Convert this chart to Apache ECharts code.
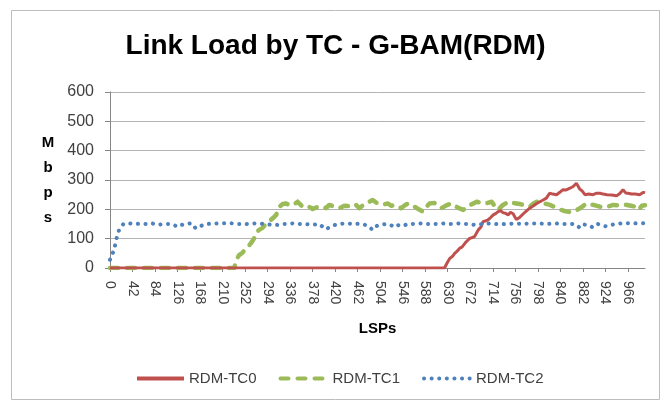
<!DOCTYPE html>
<html>
<head>
<meta charset="utf-8">
<script src="https://cdn.jsdelivr.net/npm/echarts@6/dist/echarts.min.js"></script>
<style>html,body{margin:0;padding:0;background:#fff}#c{width:671px;height:401px}</style>
</head>
<body>
<div id="c"></div>
<script>
// ---- data (LSP index, Mbps) ----
const titleText = "Link Load by TC - G-BAM(RDM)";
const seriesNames = ["RDM-TC0", "RDM-TC1", "RDM-TC2"];
const xTickStep = 42;
const yTicks = [0, 100, 200, 300, 400, 500, 600];

const tc0 = [[0,0],[624,0],[629,18],[634,33],[639,40],[643,50],[648,58],[652,67],[657,72],[662,84],[666,92],[671,101],[676,104],[680,107],[684,120],[687,130],[692,140],[696,158],[700,160],[705,164],[710,172],[715,181],[720,186],[724,192],[729,195],[733,189],[738,186],[743,181],[747,190],[752,185],[758,165],[764,172],[771,185],[777,195],[783,204],[790,212],[796,220],[802,226],[808,232],[814,238],[820,255],[826,252],[833,250],[839,258],[845,267],[851,266],[858,272],[864,278],[870,289],[876,270],[881,262],[886,250],[893,252],[901,250],[908,255],[914,255],[920,252],[927,250],[936,249],[945,246],[951,254],[957,267],[962,256],[966,255],[973,252],[980,252],[988,250],[995,258],[998,256]];

const tc1 = [[0,0],[232,0],[235,27],[241,44],[247,52],[254,67],[260,78],[265,90],[269,102],[272,119],[278,130],[284,136],[290,148],[297,160],[304,170],[310,181],[316,209],[322,218],[328,220],[334,216],[340,222],[345,219],[350,226],[359,209],[368,212],[378,201],[387,208],[396,209],[403,204],[409,215],[418,210],[428,204],[437,212],[447,211],[453,208],[459,215],[465,204],[472,214],[478,223],[484,226],[490,232],[499,220],[506,220],[512,217],[518,220],[525,212],[531,215],[537,210],[543,204],[550,214],[556,220],[562,212],[568,209],[576,200],[584,192],[590,208],[596,220],[605,222],[612,212],[618,204],[628,214],[637,220],[646,209],[652,203],[659,198],[665,208],[671,215],[678,220],[684,226],[692,222],[699,220],[705,222],[712,226],[718,210],[724,198],[733,215],[738,220],[743,226],[751,222],[758,220],[765,218],[771,215],[777,212],[783,209],[790,220],[796,226],[802,222],[808,220],[815,218],[821,215],[827,210],[833,204],[839,200],[845,196],[850,193],[855,192],[860,190],[864,192],[870,197],[877,204],[883,212],[889,220],[895,217],[902,215],[908,212],[914,209],[921,208],[927,209],[933,212],[939,215],[945,214],[951,215],[958,216],[964,215],[972,212],[980,209],[986,198],[992,212],[998,214]];

const tc2 = [[0,28],[4,45],[8,65],[12,100],[17,130],[25,150],[35,152],[45,150],[56,151],[70,150],[77,153],[84,149],[92,148],[100,150],[112,150],[120,146],[126,140],[134,147],[143,150],[152,153],[160,135],[169,143],[178,150],[190,151],[205,152],[222,153],[240,150],[255,150],[270,152],[283,151],[297,148],[312,147],[325,150],[340,152],[352,150],[365,150],[378,147],[390,150],[403,132],[412,142],[425,150],[440,152],[455,150],[468,151],[480,145],[490,130],[497,143],[505,147],[515,150],[522,148],[531,139],[538,146],[546,143],[555,150],[563,150],[578,152],[590,150],[605,150],[620,152],[635,150],[650,152],[665,150],[680,147],[695,150],[710,152],[725,149],[740,150],[756,152],[770,150],[785,152],[800,152],[815,150],[830,152],[845,150],[862,150],[870,147],[877,136],[885,148],[893,146],[901,138],[910,150],[925,142],[940,149],[955,152],[970,153],[985,152],[998,153]];

const colors = ["#C0504D", "#9BBB59", "#4F81BD"];

const chart = echarts.init(document.getElementById('c'), null, {renderer: 'canvas'});
const axisGray = '#868686';
const labelColor = '#404040';
const font = '"Liberation Sans", Arial, sans-serif';

chart.setOption({
  animation: false,
  backgroundColor: '#ffffff',
  textStyle: {fontFamily: font},
  title: {
    text: titleText, left: 'center', top: 27,
    textStyle: {fontFamily: font, fontSize: 28, fontWeight: 'bold', color: '#000'}
  },
  graphic: [{
    type: 'rect', shape: {x: 11.5, y: 10.5, width: 648, height: 389},
    style: {fill: 'none', stroke: '#bdbdbd', lineWidth: 1}, silent: true, z: -1
  }],
  legend: {
    left: 130, top: 366, itemWidth: 47, itemHeight: 14, itemGap: 22,
    itemStyle: {opacity: 0},
    lineStyle: {width: 4},
    textStyle: {fontFamily: font, fontSize: 15, color: labelColor},
    data: seriesNames
  },
  grid: {left: 110, right: 26, top: 92, bottom: 133},
  xAxis: {
    type: 'value', min: 0, max: 998, interval: xTickStep,
    name: 'LSPs', nameLocation: 'middle', nameGap: 53,
    nameTextStyle: {fontFamily: font, fontSize: 15, fontWeight: 'bold', color: '#000'},
    axisLine: {show: true, lineStyle: {color: axisGray}},
    axisTick: {show: true, length: 4, lineStyle: {color: axisGray}},
    splitLine: {show: false},
    axisLabel: {
      rotate: -90, fontSize: 14, color: labelColor, margin: 13, fontFamily: font,
      showMaxLabel: false,
      formatter: v => (v % xTickStep === 0 ? String(v) : '')
    }
  },
  yAxis: {
    type: 'value', min: yTicks[0], max: yTicks[yTicks.length - 1], interval: 100,
    name: 'M\nb\np\ns', nameLocation: 'middle', nameGap: 62, nameRotate: 0,
    nameTextStyle: {fontFamily: font, fontSize: 15, fontWeight: 'bold', color: '#000',
      lineHeight: 25, align: 'center', verticalAlign: 'middle'},
    axisLine: {show: true, lineStyle: {color: axisGray}},
    axisTick: {show: true, length: 5, lineStyle: {color: axisGray}},
    splitLine: {show: true, lineStyle: {color: '#b3b3b3', width: 1}},
    axisLabel: {fontSize: 16, color: labelColor, margin: 16, fontFamily: font}
  },
  series: [
    {name: seriesNames[0], type: 'line', data: tc0, symbol: 'none', z: 3,
     lineStyle: {color: colors[0], width: 3}, itemStyle: {color: colors[0]}},
    {name: seriesNames[1], type: 'line', data: tc1, symbol: 'none', z: 2,
     lineStyle: {color: colors[1], width: 4.5, type: [8, 9], cap: 'round', join: 'round'}, itemStyle: {color: colors[1]}},
    {name: seriesNames[2], type: 'line', data: tc2, symbol: 'none', z: 4,
     lineStyle: {color: colors[2], width: 4, type: [0.1, 7.5], cap: 'round', join: 'round'}, itemStyle: {color: colors[2]}}
  ]
});
</script>
</body>
</html>
